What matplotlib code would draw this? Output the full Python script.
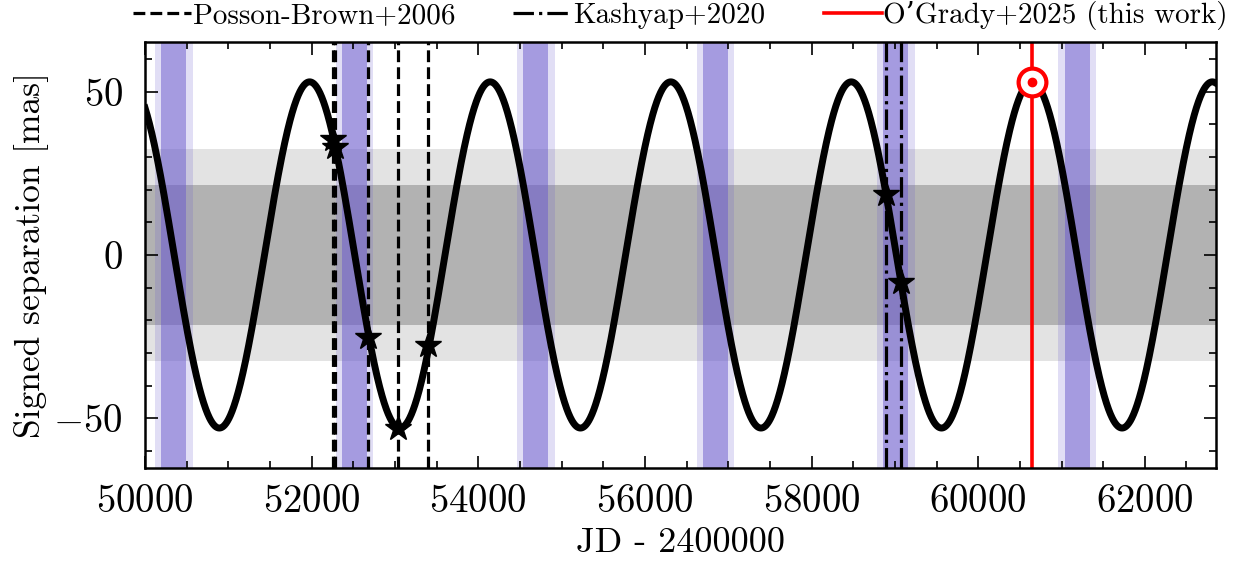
import numpy as np
import matplotlib
matplotlib.use("Agg")
import matplotlib.pyplot as plt
from matplotlib.ticker import MultipleLocator

plt.rcParams["font.family"] = ["cmr10", "DejaVu Serif"]
plt.rcParams["mathtext.fontset"] = "cm"
plt.rcParams["axes.formatter.use_mathtext"] = True

# orbit model
period = 2167.0          # days
amplitude = 53.0         # mas
t_max = 60643.0          # epoch of maximum separation (JD - 2400000)

# purple bands (centres, JD - 2400000)
band_centres = [50345, 52515, 54692, 56846, 59012, 61188]
band_inner_half = 150
band_outer_half = 225

# grey horizontal bands (mas)
inner_sep = 21.4
outer_sep = 32.4

# literature epochs and separations
pb_epochs = [52260, 52282, 52679, 53034, 53398]
pb_seps = [35.5, 33.0, -25.0, -53.0, -27.5]
k_epochs = [58892, 59075]
k_seps = [18.7, -8.3]
ours_epoch = 60643
ours_sep = 53.0

x_min, x_max = 50000, 62850

fig, ax = plt.subplots(figsize=(12.43, 5.61), dpi=100)
fig.subplots_adjust(left=0.1167, right=0.978, bottom=0.166, top=0.9257)

ax.axhspan(-outer_sep, outer_sep, color="k", alpha=0.11, lw=0, zorder=0)
ax.axhspan(-inner_sep, inner_sep, color="k", alpha=0.21, lw=0, zorder=0)

for c in band_centres:
    ax.axvspan(c - band_outer_half, c + band_outer_half, color="#6a5acd", alpha=0.2, lw=0, zorder=0.5)
    ax.axvspan(c - band_inner_half, c + band_inner_half, color="#6a5acd", alpha=0.5, lw=0, zorder=0.5)

t = np.linspace(x_min, x_max, 3000)
sep = amplitude * np.cos(2 * np.pi * (t - t_max) / period)
ax.plot(t, sep, color="k", lw=5, zorder=3)

for i, e in enumerate(pb_epochs):
    ax.axvline(e, color="k", ls="--", lw=2.3, zorder=2,
               label="Posson-Brown+2006" if i == 0 else None)
for i, e in enumerate(k_epochs):
    ax.axvline(e, color="k", ls="-.", lw=2.3, zorder=2,
               label="Kashyap+2020" if i == 0 else None)
ax.axvline(ours_epoch, color="red", lw=2.6, zorder=2, label="O\u2019Grady+2025 (this work)")

ax.plot(pb_epochs, pb_seps, ls="none", marker="*", ms=19, color="k", zorder=4)
ax.plot(k_epochs, k_seps, ls="none", marker="*", ms=19, color="k", zorder=4)
ax.plot([ours_epoch], [ours_sep], ls="none", marker="o", ms=20, mfc="white",
        mec="red", mew=3, zorder=5)
ax.plot([ours_epoch], [ours_sep], ls="none", marker="o", ms=6, color="red", zorder=6)

ax.set_xlim(x_min, x_max)
ax.set_ylim(-65.2, 65.3)
ax.xaxis.set_major_locator(MultipleLocator(2000))
ax.xaxis.set_minor_locator(MultipleLocator(500))
ax.yaxis.set_major_locator(MultipleLocator(50))
ax.yaxis.set_minor_locator(MultipleLocator(10))
ax.tick_params(which="both", direction="in", top=True, right=True, labelsize=28, width=1.2)
ax.tick_params(which="major", length=9)
ax.tick_params(which="minor", length=5)
ax.tick_params(axis="x", which="major", pad=12)
ax.tick_params(axis="y", which="major", pad=16)
for s in ax.spines.values():
    s.set_linewidth(1.8)

ax.set_xlabel("JD - 2400000", fontsize=26, labelpad=5)
ax.set_ylabel("Signed separation [mas]", fontsize=25.5, labelpad=3)

ax.legend(loc="lower center", bbox_to_anchor=(0.5, 1.02), ncol=3, frameon=False,
          fontsize=21, handlelength=2.0, handletextpad=0.05, columnspacing=2.0,
          borderaxespad=0.0, borderpad=0.1)

fig.savefig("out.png", dpi=100)
